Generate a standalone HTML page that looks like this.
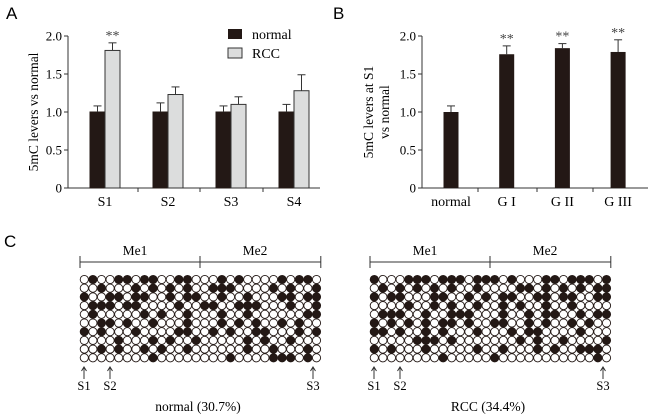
<!DOCTYPE html>
<html><head><meta charset="utf-8"><style>
body{margin:0;background:#fff;}
svg{display:block;font-family:"Liberation Serif",serif;}
.l{font-family:"Liberation Sans",sans-serif;font-size:17px;}
</style></head><body>
<svg id="s" width="650" height="417" viewBox="0 0 650 417">
<text class="l" x="6" y="19">A</text>
<text class="l" x="333" y="19">B</text>
<text class="l" x="4" y="247">C</text>
<g id="ga"></g>
<g id="gb"></g>
<g id="gc"></g>
</svg>
<script>
const catsA=["S1","S2","S3","S4"];
const normalA=[1.0,1.0,1.0,1.0];
const normalErrA=[0.08,0.12,0.08,0.1];
const rccA=[1.81,1.23,1.10,1.28];
const rccErrA=[0.1,0.1,0.1,0.21];
const sigA=["**","","",""];
const catsB=["normal","G I","G II","G III"];
const valsB=[1.0,1.76,1.84,1.79];
const errB=[0.08,0.11,0.06,0.16];
const sigB=["","**","**","**"];
const ticks=[0,0.5,1.0,1.5,2.0];
const tickLabels=["0","0.5","1.0","1.5","2.0"];
const gridNormal=[
"0100110110011000101000010110",
"0010001010101001110000101001",
"1001101100101100100100011011",
"0111011000010011001110001001",
"0100000101001000100100000011",
"0011010010001000101010010100",
"1010001000011001010011000101",
"0000100010100100000101001000",
"0010100101001000000100100010",
"0000000010000000010000111010"];
const gridRcc=[
"1000111011101110100011011101",
"0101010101001000011010101011",
"1011000110010101100110110011",
"0000100101001001010010010000",
"0111001001110001001011001011",
"1010101011010011001010010100",
"1101001010001000101100001000",
"0000011101000000010100100001",
"1010001000001001000101001110",
"0000000010000010000000000010"];
const NS="http://www.w3.org/2000/svg";
function mk(p,t,a,txt){const e=document.createElementNS(NS,t);for(const k in a)e.setAttribute(k,a[k]);if(txt!==undefined)e.textContent=txt;p.appendChild(e);return e;}
function axes(g,ox,x1){
 const y=v=>188-v*76;
 mk(g,"line",{x1:ox,y1:36,x2:ox,y2:188,stroke:"#333","stroke-width":1});
 mk(g,"line",{x1:ox,y1:188,x2:x1,y2:188,stroke:"#333","stroke-width":1});
 ticks.forEach((t,i)=>{mk(g,"line",{x1:ox-4,y1:y(t),x2:ox,y2:y(t),stroke:"#333"});
  const tx=mk(g,"text",{x:ox-6,y:y(t)+4.5,"text-anchor":"end","font-size":13},tickLabels[i]);
  
  });
 return y;}
// Panel A
(function(){const g=document.getElementById("ga");const y=axes(g,68,320);
 const xc=i=>105+i*63;
 [138,200,263].forEach(x=>mk(g,"line",{x1:x,y1:188,x2:x,y2:192,stroke:"#333"}));
 catsA.forEach((c,i)=>{
  const b1=mk(g,"rect",{x:xc(i)-15,y:y(normalA[i]),width:15,height:188-y(normalA[i]),fill:"#231815",stroke:"#231815"});
  
  
  const b2=mk(g,"rect",{x:xc(i),y:y(rccA[i]),width:15,height:188-y(rccA[i]),fill:"#dcdddd",stroke:"#333"});
  
  
  [[xc(i)-7.5,normalA[i],normalErrA[i]],[xc(i)+7.5,rccA[i],rccErrA[i]]].forEach(([x,v,e])=>{
   mk(g,"line",{x1:x,y1:y(v),x2:x,y2:y(v+e),stroke:"#333"});
   mk(g,"line",{x1:x-4,y1:y(v+e),x2:x+4,y2:y(v+e),stroke:"#333"});});
  if(sigA[i]){const s=mk(g,"text",{x:xc(i)+7.5,y:y(rccA[i]+rccErrA[i])-3,"text-anchor":"middle","font-size":14,fill:"#444"},sigA[i]);
   }
  const t=mk(g,"text",{x:xc(i),y:206,"text-anchor":"middle","font-size":14},c);
  });
 mk(g,"text",{transform:"translate(38,112) rotate(-90)","text-anchor":"middle","font-size":13.5},"5mC levers vs normal");
 mk(g,"rect",{x:228,y:29,width:14,height:10,fill:"#231815"});
 mk(g,"text",{x:252,y:39,"font-size":14},"normal");
 mk(g,"rect",{x:228,y:48,width:14,height:10,fill:"#dcdddd",stroke:"#333"});
 mk(g,"text",{x:252,y:58,"font-size":14},"RCC");
})();
// Panel B
(function(){const g=document.getElementById("gb");const y=axes(g,422,648);
 const xc=i=>451+i*55.7;
 [478,537,593].forEach(x=>mk(g,"line",{x1:x,y1:188,x2:x,y2:192,stroke:"#333"}));
 catsB.forEach((c,i)=>{
  const b=mk(g,"rect",{x:xc(i)-7.5,y:y(valsB[i]),width:15,height:188-y(valsB[i]),fill:"#231815"});
  
  
  const v=valsB[i],e=errB[i];
  mk(g,"line",{x1:xc(i),y1:y(v),x2:xc(i),y2:y(v+e),stroke:"#333"});
  mk(g,"line",{x1:xc(i)-4,y1:y(v+e),x2:xc(i)+4,y2:y(v+e),stroke:"#333"});
  if(sigB[i]){const s=mk(g,"text",{x:xc(i),y:y(v+e)-3,"text-anchor":"middle","font-size":14,fill:"#444"},sigB[i]);
   }
  const t=mk(g,"text",{x:xc(i),y:206,"text-anchor":"middle","font-size":14},c);
  });
 mk(g,"text",{transform:"translate(373,112) rotate(-90)","text-anchor":"middle","font-size":13.5},"5mC levers at S1");
 mk(g,"text",{transform:"translate(389,112) rotate(-90)","text-anchor":"middle","font-size":13.5},"vs normal");
})();
// Panel C
(function(){const g=document.getElementById("gc");
 function grid(x0,rows,cap,capx){
  const px=8.6,py=8.7,x1=x0+27*px+8.6;
  mk(g,"line",{x1:x0,y1:262,x2:x1,y2:262,stroke:"#333"});
  [x0,x0+120,x1].forEach(x=>mk(g,"line",{x1:x,y1:256,x2:x,y2:268,stroke:"#333"}));
  mk(g,"text",{x:x0+55,y:255,"text-anchor":"middle","font-size":13.5},"Me1");
  mk(g,"text",{x:x0+175,y:255,"text-anchor":"middle","font-size":13.5},"Me2");
  rows.forEach((r,ri)=>{[...r].forEach((ch,ci)=>{
   const c=mk(g,"circle",{cx:x0+4.3+ci*px,cy:279.5+ri*py,r:4.1,fill:ch==="1"?"#231815":"#fff",stroke:"#231815","stroke-width":0.9});
   });});
  [[x0+4,"S1"],[x0+30,"S2"],[x0+233,"S3"]].forEach(([x,l])=>{
   mk(g,"line",{x1:x,y1:379,x2:x,y2:368,stroke:"#333"});
   mk(g,"path",{d:`M${x-2.5} ${371} L${x} ${367} L${x+2.5} ${371}`,fill:"none",stroke:"#333"});
   mk(g,"text",{x:x,y:390,"text-anchor":"middle","font-size":12.5},l);});
  mk(g,"text",{x:capx,y:411,"text-anchor":"middle","font-size":13.5},cap);
 }
 grid(80,gridNormal,"normal (30.7%)",198);
 grid(370,gridRcc,"RCC (34.4%)",488);
})();
</script>
</body></html>
